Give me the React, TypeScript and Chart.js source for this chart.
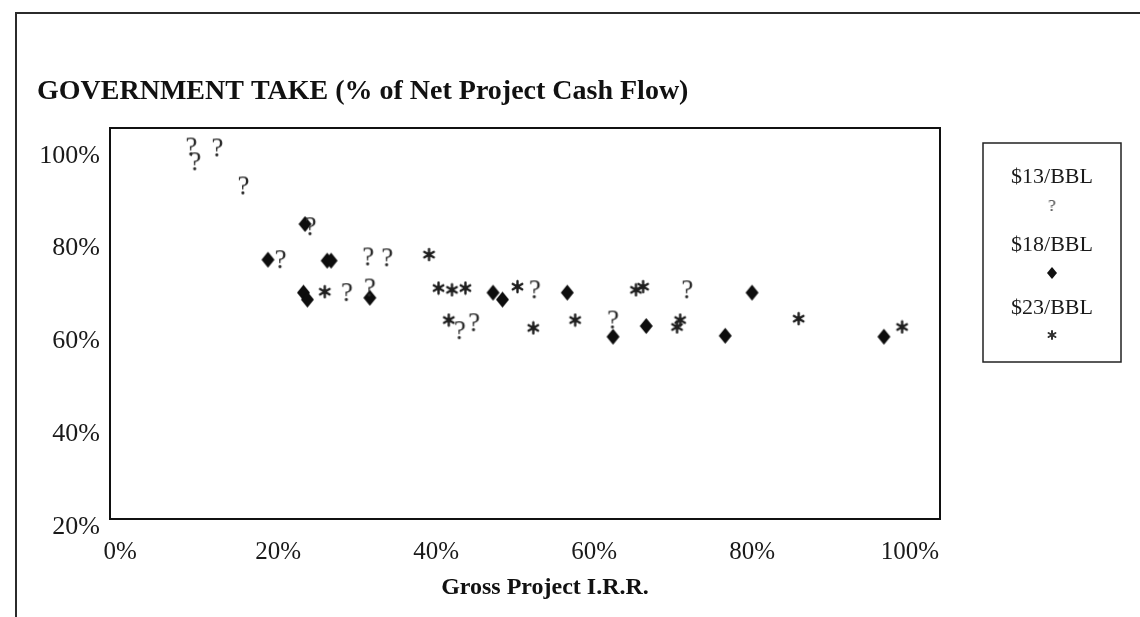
import React, { useEffect, useRef } from 'react';
import { Chart, registerables } from 'chart.js';

Chart.register(...registerables);

const CHART_TITLE = 'GOVERNMENT TAKE (% of Net Project Cash Flow)';
const X_TITLE = 'Gross Project I.R.R.';
const SERIES_NAMES = ['$13/BBL', '$18/BBL', '$23/BBL'];
const X_TICKS = [0, 20, 40, 60, 80, 100];
const Y_TICKS = [20, 40, 60, 80, 100];

// $13/BBL  (drawn as "?")
const IRR_13 = [9.0, 9.5, 12.3, 15.6, 24.1, 20.3, 31.4, 33.8, 28.7, 31.6, 52.5, 43.0, 44.8, 62.4, 71.8];
const TAKE_13 = [101.9, 98.7, 101.7, 93.5, 84.7, 77.6, 78.2, 78.0, 70.5, 71.5, 71.1, 62.3, 64.0, 64.6, 71.1];
// $18/BBL  (diamond)
const IRR_18 = [23.4, 18.7, 26.2, 26.7, 23.2, 23.7, 31.6, 47.2, 48.4, 56.6, 62.4, 66.6, 80.0, 76.6, 96.7];
const TAKE_18 = [85.3, 77.6, 77.4, 77.4, 70.5, 69.0, 69.4, 70.5, 69.0, 70.5, 61.0, 63.3, 70.5, 61.2, 61.0];
// $23/BBL  (asterisk)
const IRR_23 = [25.9, 39.1, 40.3, 42.0, 43.7, 41.6, 50.3, 52.3, 57.6, 65.3, 66.2, 70.9, 70.5, 85.9, 99.0];
const TAKE_23 = [70.7, 78.7, 71.5, 71.1, 71.5, 64.6, 71.8, 62.9, 64.6, 71.1, 71.8, 64.6, 63.1, 64.9, 63.1];

const SERIF = '"Liberation Serif", "Times New Roman", "DejaVu Serif", serif';

function makeQuestion(size: number, color: string) {
  const c = document.createElement('canvas');
  const w = Math.ceil(size * 0.6);
  const h = Math.ceil(size * 0.9);
  c.width = w;
  c.height = h;
  const g = c.getContext('2d')!;
  g.fillStyle = color;
  g.font = `${size}px ${SERIF}`;
  g.textAlign = 'center';
  g.textBaseline = 'alphabetic';
  g.fillText('?', w / 2, h / 2 + size * 0.33);
  return c;
}

function makeDiamond(w: number, h: number, color: string) {
  const c = document.createElement('canvas');
  c.width = w + 2;
  c.height = h + 2;
  const g = c.getContext('2d')!;
  g.fillStyle = color;
  g.beginPath();
  g.moveTo(1 + w / 2, 1);
  g.lineTo(1 + w, 1 + h / 2);
  g.lineTo(1 + w / 2, 1 + h);
  g.lineTo(1, 1 + h / 2);
  g.closePath();
  g.fill();
  return c;
}

function makeAsterisk(size: number, lw: number, color: string) {
  const c = document.createElement('canvas');
  c.width = size + 4;
  c.height = size + 4;
  const g = c.getContext('2d')!;
  const cx = c.width / 2;
  const cy = c.height / 2;
  const r = size / 2;
  g.strokeStyle = color;
  g.lineWidth = lw;
  g.lineCap = 'round';
  [90, 30, 150].forEach((deg) => {
    const a = (deg * Math.PI) / 180;
    g.beginPath();
    g.moveTo(cx - r * Math.cos(a), cy - r * Math.sin(a));
    g.lineTo(cx + r * Math.cos(a), cy + r * Math.sin(a));
    g.stroke();
  });
  g.fillStyle = color;
  g.beginPath();
  g.arc(cx, cy, lw, 0, Math.PI * 2);
  g.fill();
  return c;
}

export default function App() {
  const ref = useRef<HTMLCanvasElement | null>(null);

  useEffect(() => {
    if (!ref.current) return;

    const qMark = makeQuestion(27, '#2a2a2a');
    const diamond = makeDiamond(13, 16, '#0d0d0d');
    const star = makeAsterisk(11, 2.4, '#1e1e1e');
    const legendSymbols = [
      makeQuestion(17, '#444444'),
      makeDiamond(10, 12, '#111111'),
      makeAsterisk(8, 2, '#333333'),
    ];

    const decor = {
      id: 'decor',
      beforeDraw(chart: any) {
        const ctx = chart.ctx;
        ctx.save();
        ctx.fillStyle = '#ffffff';
        ctx.fillRect(0, 0, chart.width, chart.height);
        // outer frame
        ctx.strokeStyle = '#2b2b2b';
        ctx.lineWidth = 2;
        ctx.beginPath();
        ctx.moveTo(16, 617);
        ctx.lineTo(16, 13);
        ctx.lineTo(1140, 13);
        ctx.stroke();
        // title
        ctx.fillStyle = '#111111';
        ctx.font = `bold 28px ${SERIF}`;
        ctx.textAlign = 'left';
        ctx.textBaseline = 'middle';
        ctx.fillText(CHART_TITLE, 37, 92);
        // x-axis title
        ctx.font = `bold 24px ${SERIF}`;
        ctx.textAlign = 'center';
        ctx.fillText(X_TITLE, 545, 588);
        // plot box
        const a = chart.chartArea;
        ctx.strokeStyle = '#111111';
        ctx.lineWidth = 2;
        ctx.strokeRect(a.left, a.top, a.right - a.left, a.bottom - a.top);
        ctx.restore();
      },
      afterDraw(chart: any) {
        const ctx = chart.ctx;
        ctx.save();
        ctx.strokeStyle = '#222222';
        ctx.lineWidth = 1.5;
        ctx.strokeRect(983, 143, 138, 219);
        const cx = 1052;
        const rows = [177, 205, 245, 273, 308, 335];
        ctx.fillStyle = '#1a1a1a';
        ctx.font = `22px ${SERIF}`;
        ctx.textAlign = 'center';
        ctx.textBaseline = 'middle';
        chart.data.datasets.forEach((ds: any, i: number) => {
          ctx.fillText(ds.label, cx, rows[i * 2]);
          const s = legendSymbols[i];
          ctx.drawImage(s, cx - s.width / 2, rows[i * 2 + 1] - s.height / 2);
        });
        ctx.restore();
      },
    };

    const toPts = (xs: number[], ys: number[]) => xs.map((x, i) => ({ x, y: ys[i] }));

    const chart = new Chart(ref.current, {
      type: 'scatter',
      data: {
        datasets: [
          { label: SERIES_NAMES[0], data: toPts(IRR_13, TAKE_13), pointStyle: qMark as any, showLine: false },
          { label: SERIES_NAMES[1], data: toPts(IRR_18, TAKE_18), pointStyle: diamond as any, showLine: false },
          { label: SERIES_NAMES[2], data: toPts(IRR_23, TAKE_23), pointStyle: star as any, showLine: false },
        ],
      },
      options: {
        responsive: false,
        animation: false,
        devicePixelRatio: 1,
        events: [],
        layout: { padding: { left: 0, top: 128, right: 200, bottom: 0 } },
        plugins: {
          legend: { display: false },
          title: { display: false },
          tooltip: { enabled: false },
        },
        scales: {
          x: {
            type: 'linear',
            min: -1.3,
            max: 103.8,
            afterBuildTicks: (s: any) => {
              s.ticks = X_TICKS.map((v) => ({ value: v }));
            },
            afterFit: (s: any) => {
              s.height = 98;
            },
            grid: { display: false, drawTicks: false },
            border: { display: false },
            ticks: {
              padding: 18,
              color: '#1a1a1a',
              font: { family: SERIF, size: 25 },
              maxRotation: 0,
              autoSkip: false,
              callback: (v: any) => `${v}%`,
            },
          },
          y: {
            type: 'linear',
            min: 21.7,
            max: 106,
            afterBuildTicks: (s: any) => {
              s.ticks = Y_TICKS.map((v) => ({ value: v }));
            },
            afterFit: (s: any) => {
              s.width = 110;
            },
            grid: { display: false, drawTicks: false },
            border: { display: false },
            ticks: {
              padding: 10,
              color: '#1a1a1a',
              font: { family: SERIF, size: 26 },
              autoSkip: false,
              callback: (v: any) => `${v}%`,
            },
          },
        },
      },
      plugins: [decor],
    });

    return () => chart.destroy();
  }, []);

  return (
    <div style={{ position: 'absolute', left: 0, top: 0, width: 1140, height: 617 }}>
      <canvas ref={ref} width={1140} height={617} style={{ display: 'block' }} />
    </div>
  );
}
